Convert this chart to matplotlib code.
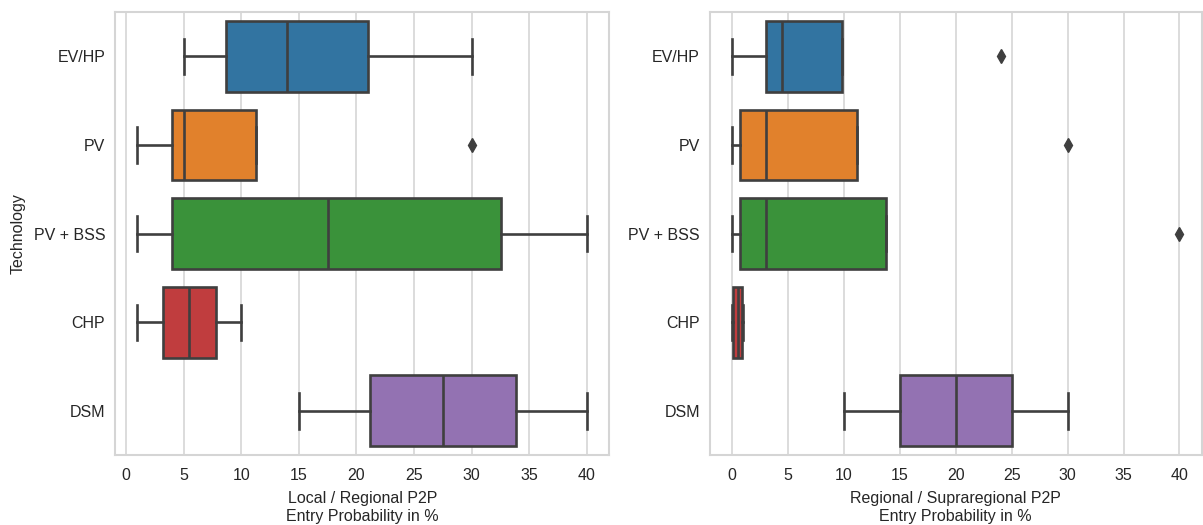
import matplotlib
matplotlib.use("Agg")
import matplotlib.pyplot as plt

plt.rcParams["font.family"] = ["Liberation Sans", "DejaVu Sans"]

# categories (top to bottom)
TECH = ["EV/HP", "PV", "PV + BSS", "CHP", "DSM"]
COLORS = ["#3274a1", "#e1812c", "#3a923a", "#c03d3e", "#9372b2"]

# left panel: local / regional P2P  (whislo, q1, med, q3, whishi)
LOC_WLO = [5, 1, 1, 1, 15]
LOC_Q1 = [8.7, 4.0, 4.0, 3.2, 21.2]
LOC_MED = [14.0, 5.0, 17.5, 5.5, 27.5]
LOC_Q3 = [21.0, 11.3, 32.5, 7.8, 33.8]
LOC_WHI = [30, 11.3, 40, 10, 40]
LOC_FLIERS = [[], [30], [], [], []]

# right panel: regional / supraregional P2P
REG_WLO = [0, 0, 0, 0, 10]
REG_Q1 = [3.0, 0.7, 0.7, 0.1, 15.0]
REG_MED = [4.5, 3.0, 3.0, 0.5, 20.0]
REG_Q3 = [9.8, 11.2, 13.8, 0.85, 25.0]
REG_WHI = [9.8, 11.2, 13.8, 1.0, 30.0]
REG_FLIERS = [[24], [30], [40], [], []]

LINE = "#3f3f3f"
GRID = "#d5d5d5"
TXT = "#262626"
FS = 11.5
LW = 1.9


def _stats(wlo, q1, med, q3, whi, fliers):
    return [dict(whislo=a, q1=b, med=c, q3=d, whishi=e, fliers=f, label=t)
            for a, b, c, d, e, f, t in zip(wlo, q1, med, q3, whi, fliers, TECH)]


def _panel(ax, stats, xlabel):
    pos = list(range(len(stats)))
    art = ax.bxp(stats, positions=pos, vert=False, widths=0.8,
                 patch_artist=True, showfliers=True,
                 boxprops=dict(edgecolor=LINE, linewidth=LW),
                 whiskerprops=dict(color=LINE, linewidth=LW),
                 capprops=dict(color=LINE, linewidth=LW),
                 medianprops=dict(color=LINE, linewidth=LW),
                 flierprops=dict(marker="d", markerfacecolor=LINE,
                                 markeredgecolor=LINE, markersize=7),
                 capwidths=0.4)
    for patch, c in zip(art["boxes"], COLORS):
        patch.set_facecolor(c)
    ax.set_ylim(len(stats) - 0.5, -0.5)
    ax.set_yticks(pos, TECH)
    ax.set_xticks(range(0, 41, 5))
    ax.margins(x=0.05)
    ax.grid(axis="x", color=GRID, lw=1.2)
    ax.set_axisbelow(True)
    for s in ax.spines.values():
        s.set_color(GRID)
        s.set_linewidth(1.5)
    ax.tick_params(axis="x", pad=9)
    ax.tick_params(length=0, labelsize=FS, colors=TXT)
    ax.tick_params(axis="y", pad=7)
    ax.set_xlabel(xlabel, fontsize=FS, color=TXT, labelpad=6,
                  linespacing=1.25)


def main():
    fig = plt.figure(figsize=(12.03, 5.25), dpi=100)
    ax1 = fig.add_axes([0.0956, 0.133, 0.411, 0.844])
    ax2 = fig.add_axes([0.590, 0.133, 0.409, 0.844])

    _panel(ax1, _stats(LOC_WLO, LOC_Q1, LOC_MED, LOC_Q3, LOC_WHI, LOC_FLIERS),
           "Local / Regional P2P\nEntry Probability in %")
    _panel(ax2, _stats(REG_WLO, REG_Q1, REG_MED, REG_Q3, REG_WHI, REG_FLIERS),
           "Regional / Supraregional P2P\nEntry Probability in %")
    ax1.set_ylabel("Technology", fontsize=FS, color=TXT, labelpad=6)

    fig.savefig("out.png", dpi=100)
    plt.close(fig)


if __name__ == "__main__":
    main()
